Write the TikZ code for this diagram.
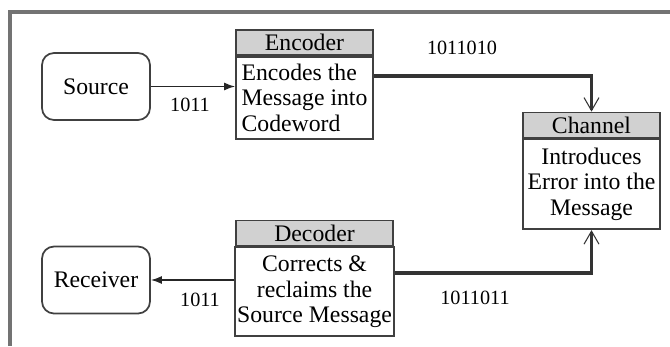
\documentclass[tikz,border=0pt]{standalone}
\usepackage{fontspec}
\setmainfont{Liberation Serif}
\usetikzlibrary{positioning,arrows.meta}

\begin{document}
\begin{tikzpicture}[
  term/.style={draw=black!75,line width=1pt,rounded corners=0.24cm,minimum width=2.16cm,minimum height=1.34cm,font=\fontsize{13.5}{15}\selectfont},
  head/.style={draw=black!75,line width=1pt,fill=black!18,minimum height=0.5cm,inner sep=0pt,font=\fontsize{13.5}{15}\selectfont},
  body/.style={draw=black!75,line width=1pt,align=center,inner sep=1pt,font=\fontsize{13.5}{14.7}\selectfont},
  bit/.style={font=\fontsize{11.5}{13}\selectfont},
  thin/.style={-{Latex[length=2.2mm,width=1.6mm]},line width=0.8pt,black!85},
  fat/.style={-{Straight Barb[length=2.6mm,width=3mm,line width=0.6pt]},line width=2.2pt,black!80}]
\useasboundingbox (0,0) rectangle (13.4,6.92);
\draw[black!55,line width=1.8pt] (13.4,6.68) -- (0.2,6.68) -- (0.2,0);

\node[term] (src) at (1.92,5.19) {Source};
\node[term] (rcv) at (1.92,1.32) {Receiver};

\node[head,minimum width=2.74cm] (enc) at (6.09,6.07) {Encoder};
\node[body,align=left,minimum width=2.74cm,minimum height=1.64cm,below=0pt of enc] (encb) {Encodes the\\Message into\\Codeword};

\node[head,minimum width=2.74cm] (chn) at (11.83,4.42) {Channel};
\node[body,minimum width=2.74cm,minimum height=1.8cm,below=0pt of chn] (chnb) {Introduces\\Error into the\\Message};

\node[head,minimum width=3.14cm] (dec) at (6.29,2.26) {Decoder};
\node[body,minimum width=3.14cm,minimum height=1.78cm,below=0pt of dec] (decb) {Corrects \&\\reclaims the\\Source Message};

\node[bit] (b_1) at (3.8,4.82) {1011};
\node[bit] (b_2) at (9.24,5.96) {1011010};
\node[bit] (b_3) at (9.5,0.96) {1011011};
\node[bit] (b_4) at (4.0,0.92) {1011};

\draw[thin] (src) -- (src.east -| encb.west);
\draw[fat] ([yshift=-0.4cm]encb.north east) -| (chn.north);
\draw[fat] ([yshift=-0.54cm]decb.north east) -| (chnb.south);
\draw[thin] (decb.west |- rcv.east) -- (rcv.east);
\end{tikzpicture}
\end{document}
